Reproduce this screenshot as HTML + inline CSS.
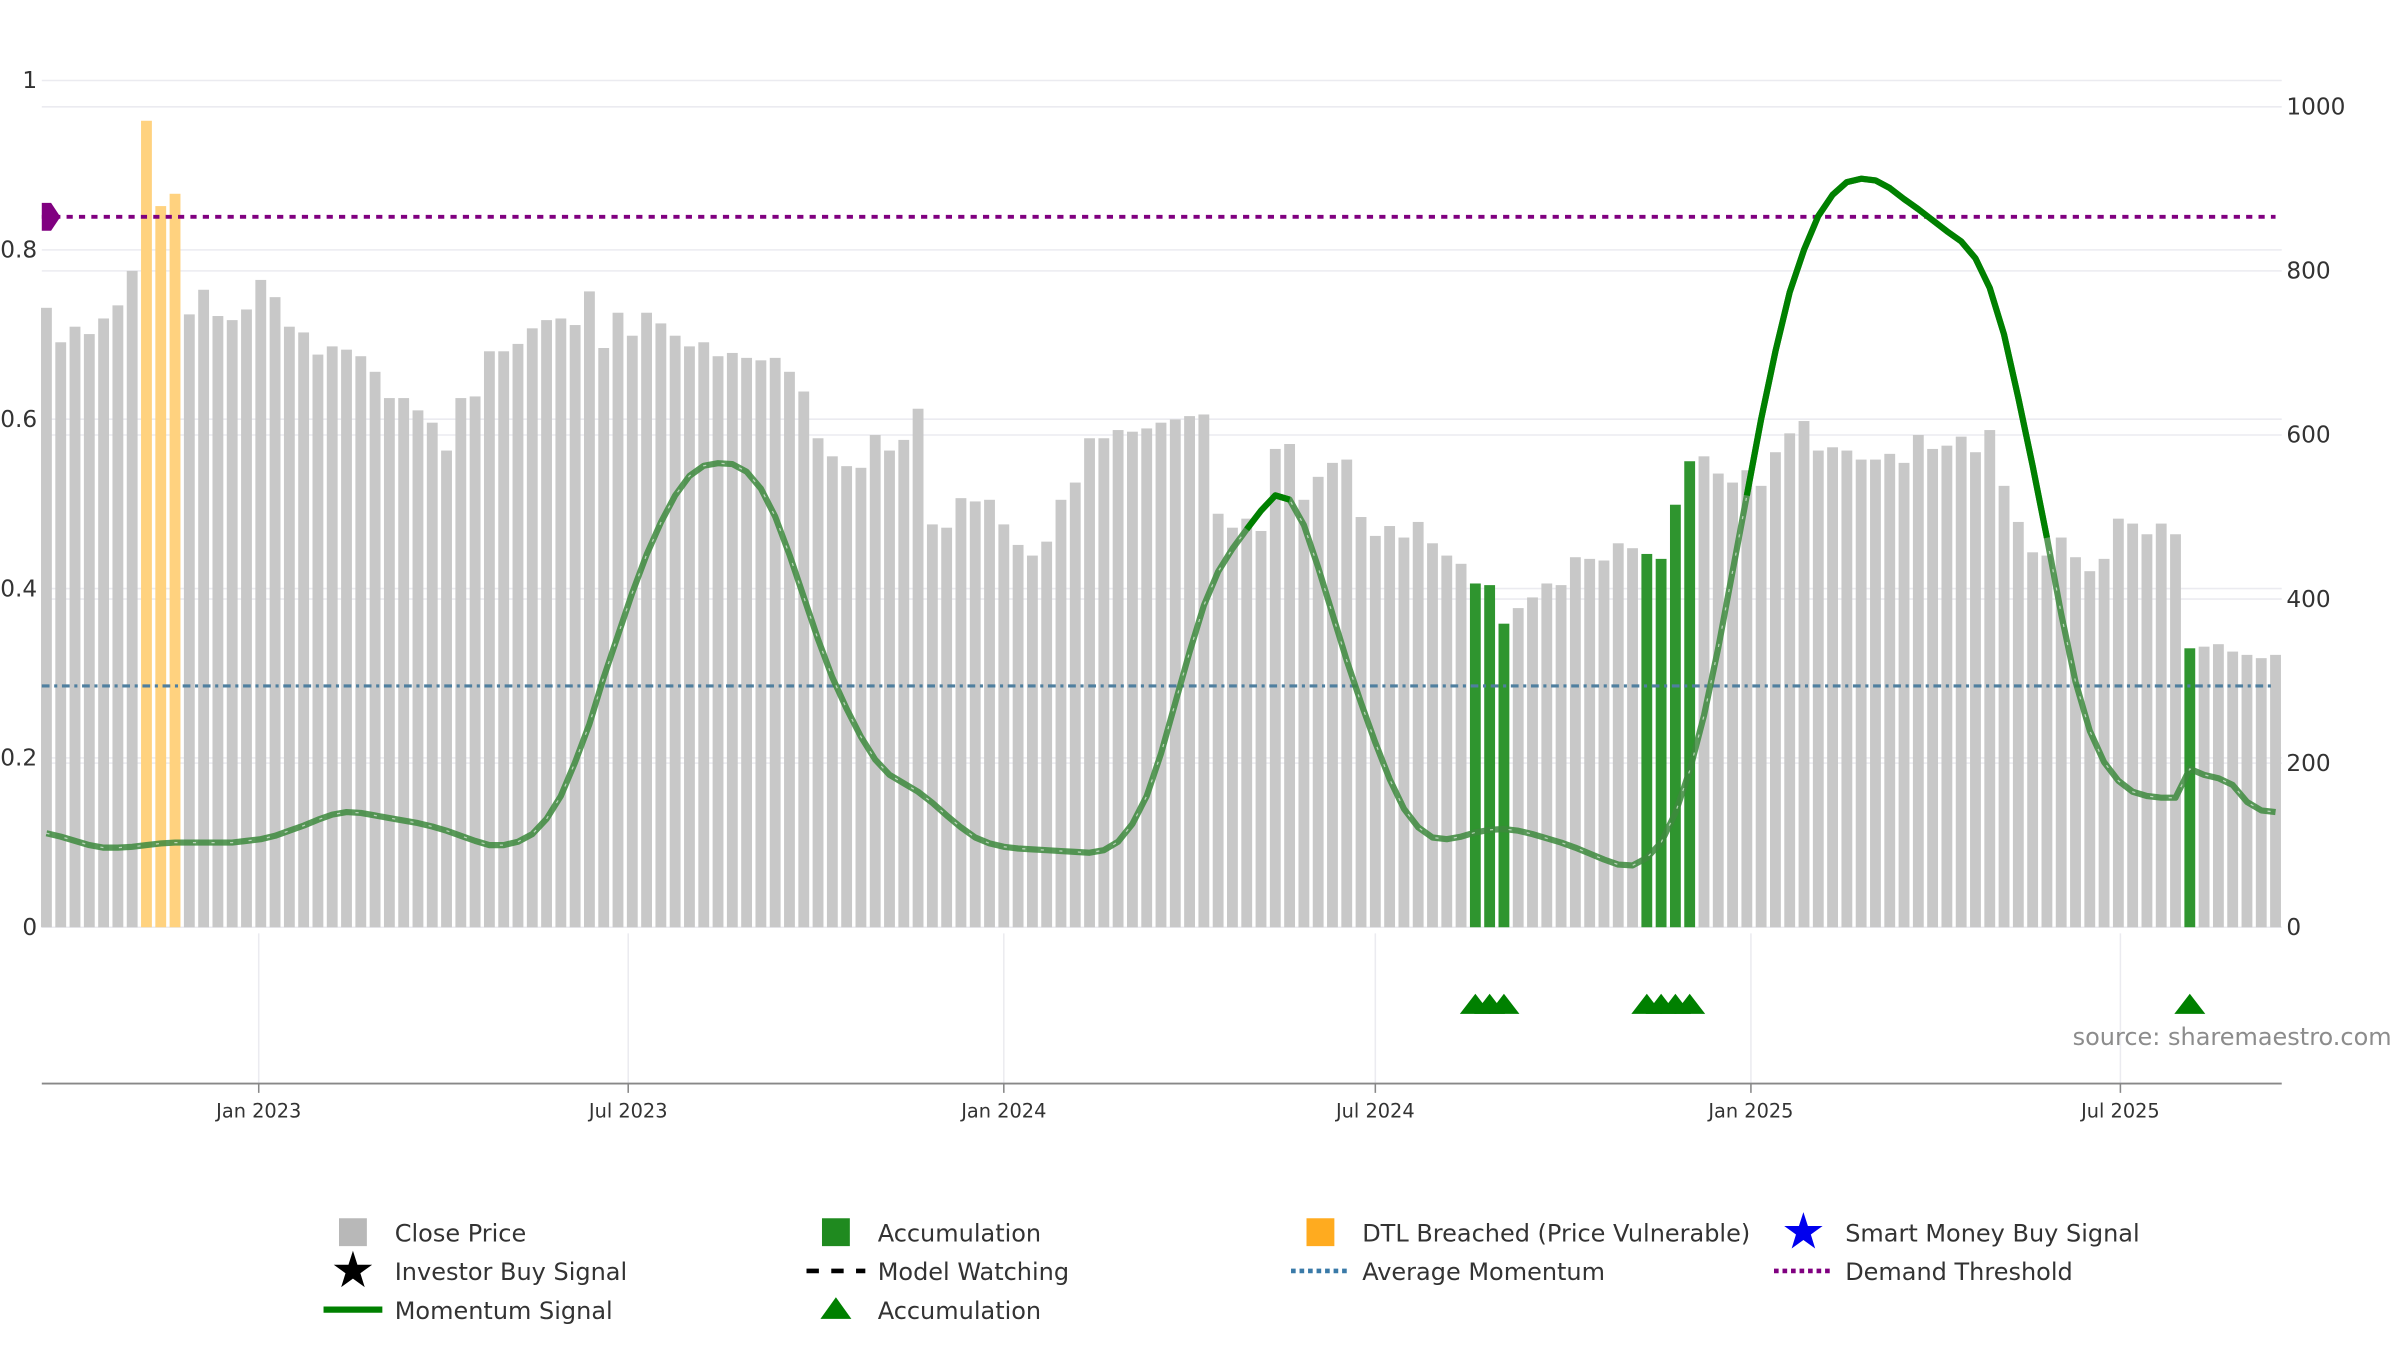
<!DOCTYPE html>
<html><head><meta charset="utf-8"><style>
html,body{margin:0;padding:0;background:#fff;}
svg{display:block;font-family:"DejaVu Sans","Liberation Sans",sans-serif;}
</style></head><body>
<svg id="chart" width="2400" height="1350" viewBox="0 0 1550.4 872.1" preserveAspectRatio="none" xmlns="http://www.w3.org/2000/svg">
<g id="grid"></g>
<g id="bars"></g>
<g id="lines"></g>
<g id="axes"></g>
<g id="lower"></g>
<text x="1545" y="675" text-anchor="end" font-size="15.5" fill="#8c8c8c">source: sharemaestro.com</text>
<g id="legend"></g>
</svg>
<script>
const prices=[755,713,732,723,742,758,800,983,879,894,747,777,745,740,753,789,768,732,725,698,708,704,696,677,645,645,630,615,581,645,647,702,702,711,730,740,742,734,775,706,749,721,749,736,721,708,713,696,700,694,691,694,677,653,596,574,562,560,600,581,594,632,491,487,523,519,521,491,466,453,470,521,542,596,596,606,604,608,615,619,623,625,504,487,498,483,583,589,521,549,566,570,500,477,489,475,494,468,453,443,419,417,370,389,402,419,417,451,449,447,468,462,455,449,515,568,574,553,542,557,538,579,602,617,581,585,581,570,570,577,566,600,583,587,598,579,606,538,494,457,453,475,451,434,449,498,492,479,492,479,340,342,345,336,332,328,332];
const momentum=[0.111,0.107,0.102,0.097,0.094,0.094,0.095,0.097,0.099,0.100,0.100,0.100,0.100,0.100,0.102,0.104,0.108,0.114,0.120,0.127,0.133,0.136,0.135,0.132,0.129,0.126,0.123,0.119,0.114,0.108,0.102,0.097,0.097,0.101,0.110,0.128,0.155,0.195,0.240,0.295,0.345,0.395,0.440,0.478,0.510,0.533,0.545,0.548,0.547,0.538,0.518,0.485,0.440,0.390,0.340,0.295,0.258,0.225,0.198,0.180,0.170,0.160,0.147,0.132,0.118,0.106,0.099,0.095,0.093,0.092,0.091,0.090,0.089,0.088,0.091,0.101,0.122,0.155,0.205,0.265,0.325,0.380,0.420,0.447,0.470,0.492,0.510,0.505,0.475,0.425,0.370,0.315,0.265,0.218,0.175,0.140,0.118,0.106,0.104,0.107,0.112,0.115,0.116,0.114,0.110,0.105,0.100,0.094,0.087,0.080,0.074,0.073,0.082,0.100,0.135,0.185,0.250,0.330,0.420,0.510,0.600,0.680,0.750,0.800,0.840,0.865,0.880,0.884,0.882,0.873,0.860,0.848,0.835,0.822,0.810,0.790,0.755,0.700,0.625,0.545,0.460,0.370,0.290,0.232,0.195,0.173,0.160,0.155,0.153,0.153,0.187,0.180,0.176,0.168,0.148,0.138,0.136];
const dtlIdx=[7,8,9];
const accumIdx=[100,101,102,112,113,114,115,150];
const strongRanges=[[84,87],[119,140]];
const avgMomentum=0.285;
const demandThreshold=0.839;
const leftTicks=[0,0.2,0.4,0.6,0.8,1];
const leftTickLabels=["0","0.2","0.4","0.6","0.8","1"];
const rightTicks=[0,200,400,600,800,1000];
const dateTicks=["2023-01-01","2023-07-01","2024-01-01","2024-07-01","2025-01-01","2025-07-01"];
const dateTickLabels=["Jan 2023","Jul 2023","Jan 2024","Jul 2024","Jan 2025","Jul 2025"];
const startDate="2022-09-19";

const NS="http://www.w3.org/2000/svg";
const X0=30,X1=1470,PL=27,PR=1474;
const n=prices.length;
const xIdx=i=>X0+i*(X1-X0)/(n-1);
const yL=v=>599-v*547;
const yR=v=>599-v*0.53;
const xDate=d=>xIdx((new Date(d)-new Date(startDate))/(7*864e5));
function mk(tag,attrs,parent){const e=document.createElementNS(NS,tag);for(const k in attrs)e.setAttribute(k,attrs[k]);parent.appendChild(e);return e;}
const grid=document.getElementById('grid'),bars=document.getElementById('bars'),lines=document.getElementById('lines'),axes=document.getElementById('axes'),lower=document.getElementById('lower'),legend=document.getElementById('legend');

leftTicks.forEach((t,i)=>{
 const l=mk('line',{x1:PL,x2:PR,y1:yL(t),y2:yL(t),stroke:'#ebebf0','stroke-width':1},grid);
 
 const tx=mk('text',{x:24,y:yL(t)+5,'text-anchor':'end','font-size':15,fill:'#333'},axes);
 tx.textContent=leftTickLabels[i];
 
});
rightTicks.forEach(t=>{
 const l=mk('line',{x1:PL,x2:PR,y1:yR(t),y2:yR(t),stroke:'#ebebf0','stroke-width':1},grid);
 
 const tx=mk('text',{x:1477,y:yR(t)+5,'text-anchor':'start','font-size':15,fill:'#333'},axes);
 tx.textContent=String(t);
 
});
dateTicks.forEach((d,i)=>{
 const x=xDate(d);
 const l=mk('line',{x1:x,x2:x,y1:603,y2:700,stroke:'#ebebf0','stroke-width':1},grid);
 
 const tk=mk('line',{x1:x,x2:x,y1:700,y2:706,stroke:'#888','stroke-width':1},axes);
 
 const tx=mk('text',{x:x,y:722,'text-anchor':'middle','font-size':12.5,fill:'#333'},axes);
 tx.textContent=dateTickLabels[i];
 
});
const ax=mk('line',{x1:PL,x2:PR,y1:700,y2:700,stroke:'#888','stroke-width':1.2},axes);


prices.forEach((p,i)=>{
 let fill='#c8c8c8';
 if(dtlIdx.includes(i))fill='#ffd27f';
 if(accumIdx.includes(i))fill='#2f952f';
 const r=mk('rect',{x:xIdx(i)-3.5,y:yR(p),width:7,height:599-yR(p),fill:fill},bars);
 
});

const avg=mk('line',{x1:PL,x2:1470,y1:yL(avgMomentum),y2:yL(avgMomentum),stroke:'#4f7f9f','stroke-width':2,'stroke-dasharray':'5 3 2 3'},lines);

const dem=mk('line',{x1:PL,x2:1470,y1:yL(demandThreshold),y2:yL(demandThreshold),stroke:'#800080','stroke-width':2.5,'stroke-dasharray':'4 4'},lines);

const dy=yL(demandThreshold);
const dm=mk('polygon',{points:`27,${dy-9} 33,${dy-9} 39,${dy} 33,${dy+9} 27,${dy+9}`,fill:'#800080'},lines);


const pts=momentum.map((v,i)=>`${xIdx(i).toFixed(2)},${yL(v).toFixed(2)}`).join(' ');
const ml=mk('polyline',{points:pts,fill:'none',stroke:'#3d8a3d','stroke-opacity':0.85,'stroke-width':4,'stroke-linejoin':'round'},lines);

const mw=mk('polyline',{points:pts,fill:'none',stroke:'#fff','stroke-opacity':0.6,'stroke-width':0.8,'stroke-dasharray':'2 10'},lines);

strongRanges.forEach(([a,b])=>{
 const sp=momentum.slice(a,b+1).map((v,k)=>`${xIdx(a+k).toFixed(2)},${yL(v).toFixed(2)}`).join(' ');
 const s=mk('polyline',{points:sp,fill:'none',stroke:'#008000','stroke-width':4,'stroke-linejoin':'round'},lines);
 
});

accumIdx.forEach(i=>{
 const x=xIdx(i);
 const t=mk('polygon',{points:`${x-10},655 ${x},642 ${x+10},655`,fill:'#008000'},lower);
 
});

const legItems=[
 {x:228,y:796,t:'Close Price',s:'sq',c:'#b8b8b8'},
 {x:540,y:796,t:'Accumulation',s:'sq',c:'#1f8a1f'},
 {x:853,y:796,t:'DTL Breached (Price Vulnerable)',s:'sq',c:'#ffab1f'},
 {x:1165,y:796,t:'Smart Money Buy Signal',s:'star',c:'#0000ee'},
 {x:228,y:821,t:'Investor Buy Signal',s:'star',c:'#000'},
 {x:540,y:821,t:'Model Watching',s:'dash',c:'#000'},
 {x:853,y:821,t:'Average Momentum',s:'dot',c:'#3a7aa8'},
 {x:1165,y:821,t:'Demand Threshold',s:'dot',c:'#800080'},
 {x:228,y:846,t:'Momentum Signal',s:'line',c:'#008000'},
 {x:540,y:846,t:'Accumulation',s:'tri',c:'#008000'}
];
legItems.forEach(it=>{
 const g=mk('g',{},legend);
 
 const x=it.x,y=it.y;
 if(it.s==='sq')mk('rect',{x:x-9,y:y-9,width:18,height:18,fill:it.c},g);
 if(it.s==='star'){const pp=[];for(let k=0;k<10;k++){const r=k%2?5:13,a=-Math.PI/2+k*Math.PI/5;pp.push((x+r*Math.cos(a)).toFixed(1)+','+(y+r*Math.sin(a)).toFixed(1));}mk('polygon',{points:pp.join(' '),fill:it.c},g);}
 if(it.s==='dash')mk('line',{x1:x-19,x2:x+19,y1:y,y2:y,stroke:it.c,'stroke-width':3,'stroke-dasharray':'8 8'},g);
 if(it.s==='dot')mk('line',{x1:x-19,x2:x+19,y1:y,y2:y,stroke:it.c,'stroke-width':3,'stroke-dasharray':'3 2.5'},g);
 if(it.s==='line')mk('line',{x1:x-19,x2:x+19,y1:y,y2:y,stroke:it.c,'stroke-width':4},g);
 if(it.s==='tri')mk('polygon',{points:`${x-10},${y+6} ${x},${y-8} ${x+10},${y+6}`,fill:it.c},g);
 const tx=mk('text',{x:x+27,y:y+6,'font-size':15.5,fill:'#333'},g);
 tx.textContent=it.t;
});
</script>
</body></html>
